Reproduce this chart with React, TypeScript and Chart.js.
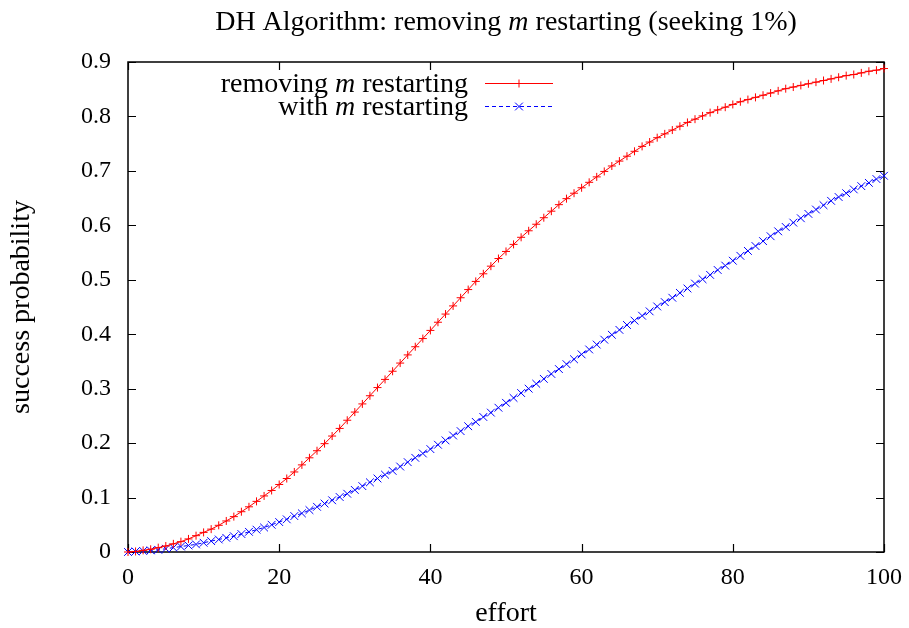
import React, { useEffect, useRef } from 'react';
import { Chart, registerables } from 'chart.js';

Chart.register(...registerables);

// ---- data ----
const effort = [
  0, 1, 2, 3, 4, 5, 6, 7, 8, 9, 10, 11, 12, 13, 14, 15, 16, 17, 18, 19, 20,
  21, 22, 23, 24, 25, 26, 27, 28, 29, 30, 31, 32, 33, 34, 35, 36, 37, 38, 39, 40,
  41, 42, 43, 44, 45, 46, 47, 48, 49, 50, 51, 52, 53, 54, 55, 56, 57, 58, 59, 60,
  61, 62, 63, 64, 65, 66, 67, 68, 69, 70, 71, 72, 73, 74, 75, 76, 77, 78, 79, 80,
  81, 82, 83, 84, 85, 86, 87, 88, 89, 90, 91, 92, 93, 94, 95, 96, 97, 98, 99, 100,
];

const removingM = [
  0.000, 0.001, 0.003, 0.005, 0.008, 0.011, 0.015, 0.019, 0.024, 0.030,
  0.036, 0.042, 0.049, 0.057, 0.065, 0.074, 0.083, 0.093, 0.103, 0.113,
  0.124, 0.135, 0.147, 0.160, 0.173, 0.186, 0.199, 0.213, 0.227, 0.242,
  0.257, 0.272, 0.287, 0.302, 0.317, 0.332, 0.347, 0.362, 0.377, 0.392,
  0.407, 0.422, 0.437, 0.452, 0.467, 0.482, 0.497, 0.511, 0.525, 0.539,
  0.552, 0.565, 0.578, 0.590, 0.602, 0.614, 0.626, 0.638, 0.649, 0.659,
  0.669, 0.679, 0.689, 0.699, 0.709, 0.718, 0.727, 0.736, 0.745, 0.753,
  0.761, 0.768, 0.775, 0.782, 0.789, 0.795, 0.801, 0.807, 0.812, 0.817,
  0.822, 0.827, 0.831, 0.835, 0.839, 0.843, 0.847, 0.851, 0.854, 0.857,
  0.860, 0.863, 0.866, 0.869, 0.872, 0.875, 0.877, 0.880, 0.883, 0.885,
  0.888,
];

const withM = [
  0.000, 0.001, 0.002, 0.003, 0.004, 0.006, 0.008, 0.010, 0.012, 0.014,
  0.017, 0.020, 0.023, 0.026, 0.029, 0.033, 0.037, 0.041, 0.045, 0.050,
  0.055, 0.060, 0.066, 0.071, 0.077, 0.083, 0.089, 0.095, 0.101, 0.107,
  0.114, 0.121, 0.128, 0.135, 0.142, 0.149, 0.157, 0.165, 0.173, 0.181,
  0.189, 0.197, 0.205, 0.214, 0.222, 0.231, 0.239, 0.248, 0.256, 0.265,
  0.274, 0.283, 0.292, 0.300, 0.309, 0.318, 0.327, 0.336, 0.345, 0.354,
  0.363, 0.372, 0.381, 0.390, 0.399, 0.408, 0.417, 0.425, 0.434, 0.442,
  0.451, 0.459, 0.467, 0.476, 0.484, 0.493, 0.501, 0.509, 0.518, 0.526,
  0.535, 0.544, 0.553, 0.562, 0.571, 0.580, 0.589, 0.597, 0.605, 0.613,
  0.621, 0.629, 0.637, 0.645, 0.652, 0.659, 0.666, 0.672, 0.678, 0.685,
  0.691,
];

const xTickValues = [0, 20, 40, 60, 80, 100];
const yTickValues = [0, 0.1, 0.2, 0.3, 0.4, 0.5, 0.6, 0.7, 0.8, 0.9];

type Part = { t: string; i: boolean };
const titleParts: Part[] = [
  { t: 'DH Algorithm: removing ', i: false },
  { t: 'm', i: true },
  { t: ' restarting (seeking 1%)', i: false },
];
const seriesLabelParts: Part[][] = [
  [
    { t: 'removing ', i: false },
    { t: 'm', i: true },
    { t: ' restarting', i: false },
  ],
  [
    { t: 'with ', i: false },
    { t: 'm', i: true },
    { t: ' restarting', i: false },
  ],
];
const xTitle = 'effort';
const yTitle = 'success probability';

const FONT = "'Liberation Serif', 'DejaVu Serif', serif";
const FS = 24; // tick labels
const TS = 28; // titles and legend text

function fontOf(italic: boolean, size: number) {
  return `${italic ? 'italic ' : ''}${size}px ${FONT}`;
}

function richWidth(ctx: CanvasRenderingContext2D, parts: Part[], size: number) {
  let w = 0;
  for (const p of parts) {
    ctx.font = fontOf(p.i, size);
    w += ctx.measureText(p.t).width;
  }
  return w;
}

function drawRich(
  ctx: CanvasRenderingContext2D,
  parts: Part[],
  x: number,
  y: number,
  align: 'left' | 'center' | 'right',
  size: number
) {
  const w = richWidth(ctx, parts, size);
  let cx = align === 'center' ? x - w / 2 : align === 'right' ? x - w : x;
  ctx.textAlign = 'left';
  for (const p of parts) {
    ctx.font = fontOf(p.i, size);
    ctx.fillText(p.t, cx, y);
    cx += ctx.measureText(p.t).width;
  }
}

function drawMarker(ctx: CanvasRenderingContext2D, style: string, x: number, y: number, r: number) {
  ctx.beginPath();
  if (style === 'cross') {
    ctx.moveTo(x - r, y);
    ctx.lineTo(x + r, y);
    ctx.moveTo(x, y - r);
    ctx.lineTo(x, y + r);
  } else {
    const d = r * Math.SQRT1_2;
    ctx.moveTo(x - d, y - d);
    ctx.lineTo(x + d, y + d);
    ctx.moveTo(x - d, y + d);
    ctx.lineTo(x + d, y - d);
  }
  ctx.stroke();
}

const gnuplotDecor = {
  id: 'gnuplotDecor',
  beforeDatasetsDraw(chart: any) {
    const { ctx, chartArea: a, scales } = chart;
    ctx.save();
    ctx.strokeStyle = '#000';
    ctx.lineWidth = 1.5;
    ctx.strokeRect(a.left, a.top, a.right - a.left, a.bottom - a.top);
    ctx.lineWidth = 1.2;
    const L = 8;
    ctx.beginPath();
    for (const t of scales.x.ticks) {
      const px = Math.round(scales.x.getPixelForValue(t.value)) + 0.5;
      ctx.moveTo(px, a.bottom);
      ctx.lineTo(px, a.bottom - L);
      ctx.moveTo(px, a.top);
      ctx.lineTo(px, a.top + L);
    }
    for (const t of scales.y.ticks) {
      const py = Math.round(scales.y.getPixelForValue(t.value)) + 0.5;
      ctx.moveTo(a.left, py);
      ctx.lineTo(a.left + L, py);
      ctx.moveTo(a.right, py);
      ctx.lineTo(a.right - L, py);
    }
    ctx.stroke();
    ctx.restore();
  },
  afterDraw(chart: any) {
    const { ctx, chartArea: a } = chart;
    ctx.save();
    ctx.fillStyle = '#000';
    ctx.textBaseline = 'alphabetic';
    // title
    drawRich(ctx, titleParts, (a.left + a.right) / 2, 30, 'center', TS);
    // x title
    drawRich(ctx, [{ t: xTitle, i: false }], (a.left + a.right) / 2, 621, 'center', TS);
    // y title
    ctx.save();
    ctx.translate(29, (a.top + a.bottom) / 2);
    ctx.rotate(-Math.PI / 2);
    drawRich(ctx, [{ t: yTitle, i: false }], 0, 0, 'center', TS);
    ctx.restore();
    // legend
    const textRight = 468;
    const lineStart = 485;
    const lineEnd = 553;
    const rows = [91.5, 115];
    chart.data.datasets.forEach((ds: any, i: number) => {
      const base = rows[i];
      ctx.fillStyle = '#000';
      drawRich(ctx, seriesLabelParts[i], textRight, base, 'right', TS);
      const ly = Math.round(base - 9) + 0.5;
      ctx.strokeStyle = ds.borderColor;
      ctx.lineWidth = 1;
      ctx.setLineDash(ds.borderDash || []);
      ctx.beginPath();
      ctx.moveTo(lineStart, ly);
      ctx.lineTo(lineEnd, ly);
      ctx.stroke();
      ctx.setLineDash([]);
      drawMarker(ctx, ds.pointStyle, (lineStart + lineEnd) / 2, ly, ds.pointRadius);
    });
    ctx.restore();
  },
};

export default function App() {
  const ref = useRef<HTMLCanvasElement | null>(null);

  useEffect(() => {
    document.body.style.margin = '0';
    const canvas = ref.current;
    if (!canvas) return;
    const chart = new Chart(canvas, {
      type: 'line',
      data: {
        datasets: [
          {
            label: 'removing m restarting',
            data: effort.map((x, i) => ({ x, y: removingM[i] })),
            borderColor: '#ff0000',
            backgroundColor: '#ff0000',
            borderWidth: 1,
            pointStyle: 'cross',
            pointRadius: 4,
            pointBorderWidth: 1,
            pointBorderColor: '#ff0000',
            fill: false,
            tension: 0,
            clip: false,
          },
          {
            label: 'with m restarting',
            data: effort.map((x, i) => ({ x, y: withM[i] })),
            borderColor: '#0000ff',
            backgroundColor: '#0000ff',
            borderWidth: 1,
            borderDash: [4, 3],
            pointStyle: 'crossRot',
            pointRadius: 5.5,
            pointBorderWidth: 1,
            pointBorderColor: '#0000ff',
            fill: false,
            tension: 0,
            clip: false,
          },
        ],
      } as any,
      options: {
        responsive: false,
        animation: false,
        devicePixelRatio: 1,
        layout: { padding: { top: 62, right: 25, left: 0, bottom: 0 } },
        plugins: {
          legend: { display: false },
          title: { display: false },
          tooltip: { enabled: false },
        },
        scales: {
          x: {
            type: 'linear',
            min: 0,
            max: 100,
            afterBuildTicks: (s: any) => {
              s.ticks = xTickValues.map((v) => ({ value: v }));
            },
            afterFit: (s: any) => {
              s.height = 76;
              s.paddingLeft = 0;
              s.paddingRight = 0;
            },
            grid: { display: false, drawTicks: false },
            border: { display: false },
            ticks: {
              color: '#000',
              font: { family: FONT, size: FS },
              padding: 11,
              maxRotation: 0,
              autoSkip: false,
              callback: (v: any) => String(v),
            },
          },
          y: {
            type: 'linear',
            min: 0,
            max: 0.9,
            afterBuildTicks: (s: any) => {
              s.ticks = yTickValues.map((v) => ({ value: v }));
            },
            afterFit: (s: any) => {
              s.width = 128;
              s.paddingTop = 0;
              s.paddingBottom = 0;
            },
            grid: { display: false, drawTicks: false },
            border: { display: false },
            ticks: {
              color: '#000',
              font: { family: FONT, size: FS },
              padding: 17,
              autoSkip: false,
              callback: (v: any) => (Number(v) === 0 ? '0' : Number(v).toFixed(1)),
            },
          },
        },
      } as any,
      plugins: [gnuplotDecor],
    });
    return () => chart.destroy();
  }, []);

  return (
    <canvas
      ref={ref}
      width={909}
      height={628}
      style={{ display: 'block', width: 909, height: 628 }}
    />
  );
}
